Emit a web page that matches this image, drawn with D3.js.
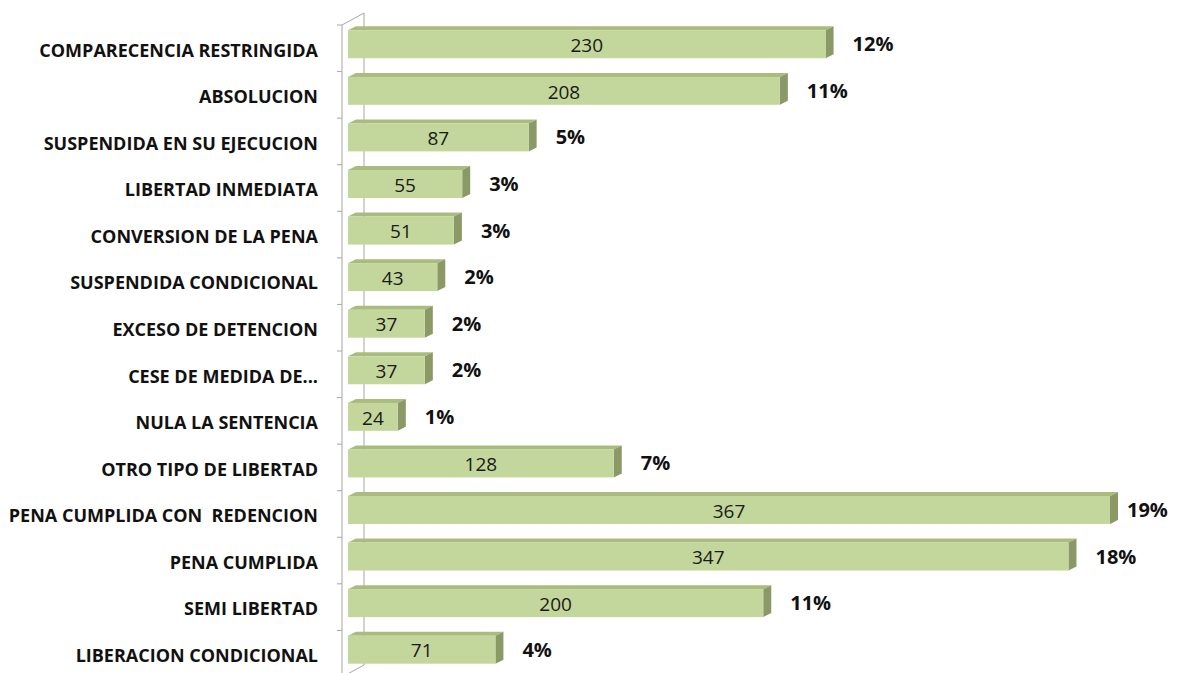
<!DOCTYPE html>
<html>
<head>
<meta charset="utf-8">
<script src="https://cdn.jsdelivr.net/npm/d3@7"></script>
<style>
  body { margin: 0; background: #fff; }
</style>
</head>
<body>
<div class="container"></div>
<script>
const categories = [
    'COMPARECENCIA RESTRINGIDA',
    'ABSOLUCION',
    'SUSPENDIDA EN SU EJECUCION',
    'LIBERTAD INMEDIATA',
    'CONVERSION DE LA PENA',
    'SUSPENDIDA CONDICIONAL',
    'EXCESO DE DETENCION',
    'CESE DE MEDIDA DE...',
    'NULA LA SENTENCIA',
    'OTRO TIPO DE LIBERTAD',
    'PENA CUMPLIDA CON  REDENCION',
    'PENA CUMPLIDA',
    'SEMI LIBERTAD',
    'LIBERACION CONDICIONAL'
];
const values = [230, 208, 87, 55, 51, 43, 37, 37, 24, 128, 367, 347, 200, 71];
const percents = ['12%', '11%', '5%', '3%', '3%', '2%', '2%', '2%', '1%', '7%', '19%', '18%', '11%', '4%'];

const w = 1177;
const h = 673;

// 3d offsets
const barDepth = { x: 8, y: -4 };
const wallDepth = { x: 22, y: -12 };
const axisX = 342;

const svg = d3.select('.container')
    .append('svg')
    .attr('width', w)
    .attr('height', h);

const y = d3.scaleBand()
    .domain(categories)
    .range([25, 677])
    .paddingInner(0.4)
    .paddingOuter(0.2);

const x = d3.scaleLinear()
    .domain([0, 367])
    .range([348, 1110]);

// walls / axis
const axis = svg.append('g').attr('stroke', '#a6a6a6').attr('fill', 'none');
axis.append('line')
    .attr('x1', axisX + wallDepth.x).attr('x2', axisX + wallDepth.x)
    .attr('y1', 25 + wallDepth.y).attr('y2', 677 + wallDepth.y);
axis.append('line')
    .attr('x1', axisX).attr('x2', axisX + wallDepth.x)
    .attr('y1', 25).attr('y2', 25 + wallDepth.y);
axis.append('line')
    .attr('x1', axisX).attr('x2', axisX + wallDepth.x)
    .attr('y1', 677).attr('y2', 677 + wallDepth.y);
axis.append('line')
    .attr('x1', axisX).attr('x2', axisX)
    .attr('y1', 25).attr('y2', 677);

const step = y.step();
axis.selectAll('.tick')
    .data(d3.range(categories.length + 1))
    .join('line')
    .attr('class', 'tick')
    .attr('x1', axisX - 5).attr('x2', axisX)
    .attr('y1', i => 25 + i * step)
    .attr('y2', i => 25 + i * step);

// bars
const bars = svg.append('g')
    .selectAll('g')
    .data(values)
    .join('g');

const barTop = (d, i) => y(categories[i]) - 4;

bars.append('path')
    .attr('fill', '#a9bc7e')
    .attr('d', (d, i) => {
        const x0 = x(0), x1 = x(d), t = barTop(d, i);
        return `M${x0},${t} L${x0 + barDepth.x},${t + barDepth.y} L${x1 + barDepth.x},${t + barDepth.y} L${x1},${t} Z`;
    });

bars.append('path')
    .attr('fill', '#8a9966')
    .attr('d', (d, i) => {
        const x1 = x(d), t = barTop(d, i), b = t + y.bandwidth();
        return `M${x1},${t} L${x1 + barDepth.x},${t + barDepth.y} L${x1 + barDepth.x},${b + barDepth.y} L${x1},${b} Z`;
    });

bars.append('rect')
    .attr('x', x(0))
    .attr('y', (d, i) => barTop(d, i))
    .attr('width', d => x(d) - x(0))
    .attr('height', y.bandwidth())
    .attr('fill', '#c3d69b');

bars.append('text')
    .attr('x', d => (x(0) + x(d)) / 2)
    .attr('y', (d, i) => barTop(d, i) + y.bandwidth() / 2 + 1)
    .attr('dy', '0.35em')
    .attr('text-anchor', 'middle')
    .style('font-family', 'Open Sans, sans-serif')
    .style('font-size', '19px')
    .attr('fill', '#1a1a1a')
    .text(d => d);

// percent labels, kept inside the picture on the right
bars.append('text')
    .attr('x', d => Math.min(x(d) + 27, w - 50))
    .attr('y', (d, i) => barTop(d, i) + y.bandwidth() / 2)
    .attr('dy', '0.35em')
    .style('font-family', 'Open Sans, sans-serif')
    .style('font-size', '20px')
    .style('font-weight', 'bold')
    .attr('fill', '#111')
    .text((d, i) => percents[i]);

// category labels
svg.append('g')
    .selectAll('text')
    .data(categories)
    .join('text')
    .attr('x', 318)
    .attr('y', d => y(d) - 4 + y.bandwidth() / 2 + 6)
    .attr('dy', '0.35em')
    .attr('text-anchor', 'end')
    .style('font-family', 'Open Sans, sans-serif')
    .style('font-size', '18px')
    .style('font-weight', 'bold')
    .style('white-space', 'pre')
    .attr('fill', '#111')
    .text(d => d);
</script>
</body>
</html>
